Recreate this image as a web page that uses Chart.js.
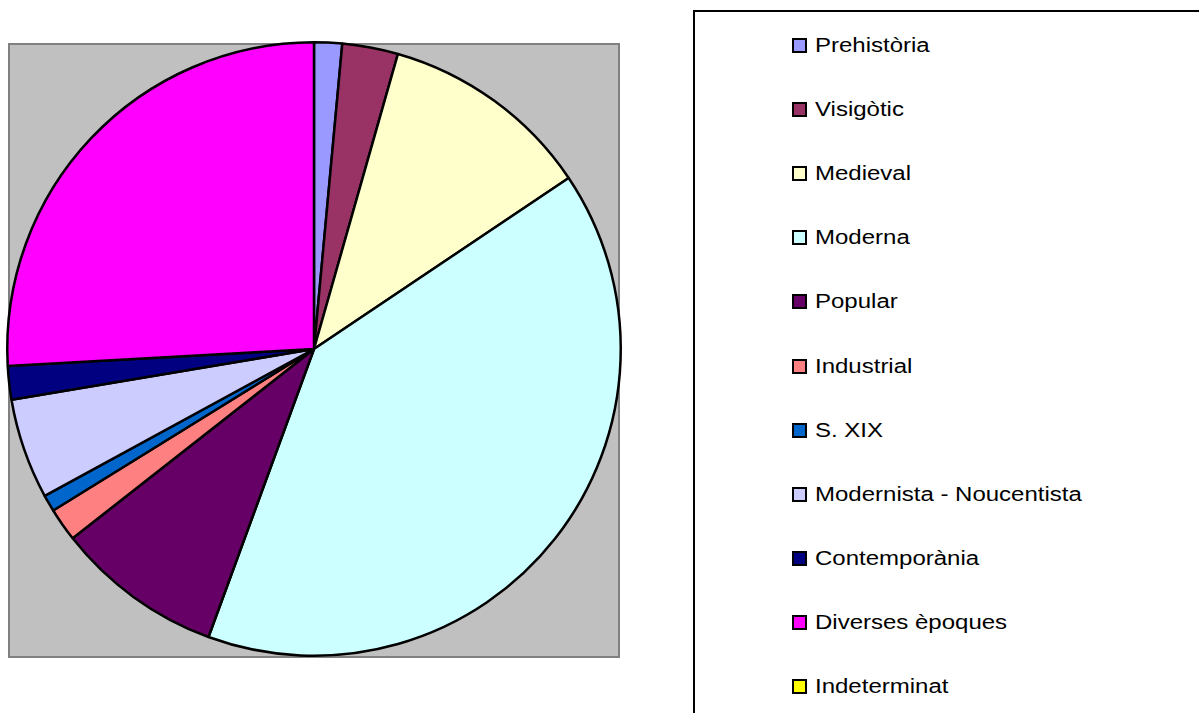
<!DOCTYPE html>
<html>
<head>
<meta charset="utf-8">
<script src="https://cdn.jsdelivr.net/npm/chart.js@4.4.0/dist/chart.umd.min.js"></script>
<style>
    body{margin:0;background:#fff;width:1199px;height:713px;overflow:hidden;position:relative;font-family:"Liberation Sans",Arial,sans-serif;}
    #myChart{position:absolute;left:0;top:0;}
    #legend{position:absolute;left:693px;top:10px;width:540px;height:740px;border:2px solid #000;box-sizing:border-box;}
    .item{position:absolute;left:97px;height:24px;line-height:24px;font-size:20px;color:#000;white-space:nowrap;}
    .item span.box{display:inline-block;width:11px;height:11px;border:2px solid #000;margin-right:8px;vertical-align:-1px;}
    .item span.txt{display:inline-block;transform:scaleX(1.2);transform-origin:left center;}
</style>
</head>
<body>
<canvas id="myChart" width="640" height="713"></canvas>
<div id="legend"></div>
<script>
const labels = ['Prehistòria','Visigòtic','Medieval','Moderna','Popular','Industrial','S. XIX','Modernista - Noucentista','Contemporània','Diverses èpoques','Indeterminat'];
const values = [5,10,38,136,30,6,3,18,6,88,0];
const colors = ['#9999FF','#993366','#FFFFCC','#CCFFFF','#660066','#FF8080','#0066CC','#CCCCFF','#000080','#FF00FF','#FFFF00'];

// gray plot area behind the pie
const plotBox = {
    id:'plotBox',
    beforeDatasetsDraw:(chart)=>{
        const a = chart.chartArea;
        const ctx = chart.ctx;
        ctx.save();
        ctx.fillStyle='#C0C0C0';
        ctx.fillRect(a.left+3,a.top+3,a.right-a.left-6,a.bottom-a.top-3);
        ctx.strokeStyle='#808080';
        ctx.lineWidth=2;
        ctx.strokeRect(a.left+3,a.top+3,a.right-a.left-6,a.bottom-a.top-3);
        ctx.restore();
    }
};

const data = {
    labels: labels,
    datasets: [{
        data: values,
        backgroundColor: colors,
        borderColor: '#000',
        borderWidth: 2.5,
    }]
};

const config = {
    type: 'pie',
    data: data,
    options: {
        responsive:false,
        animation:false,
        layout:{padding:{left:6,top:41,right:18,bottom:56}},
        plugins:{
            legend:{display:false},
            tooltip:{enabled:false}
        }
    },
    plugins:[plotBox]
};

var myChart = new Chart(document.getElementById('myChart'),config);

// legend built from the same arrays
const legend = document.getElementById('legend');
labels.forEach((l,i)=>{
    let div = document.createElement('div');
    div.className='item';
    div.style.top=(21+i*64.1)+'px';
    div.innerHTML='<span class="box" style="background:'+colors[i]+'"></span><span class="txt">'+l+'</span>';
    legend.appendChild(div);
});
</script>
</body>
</html>
